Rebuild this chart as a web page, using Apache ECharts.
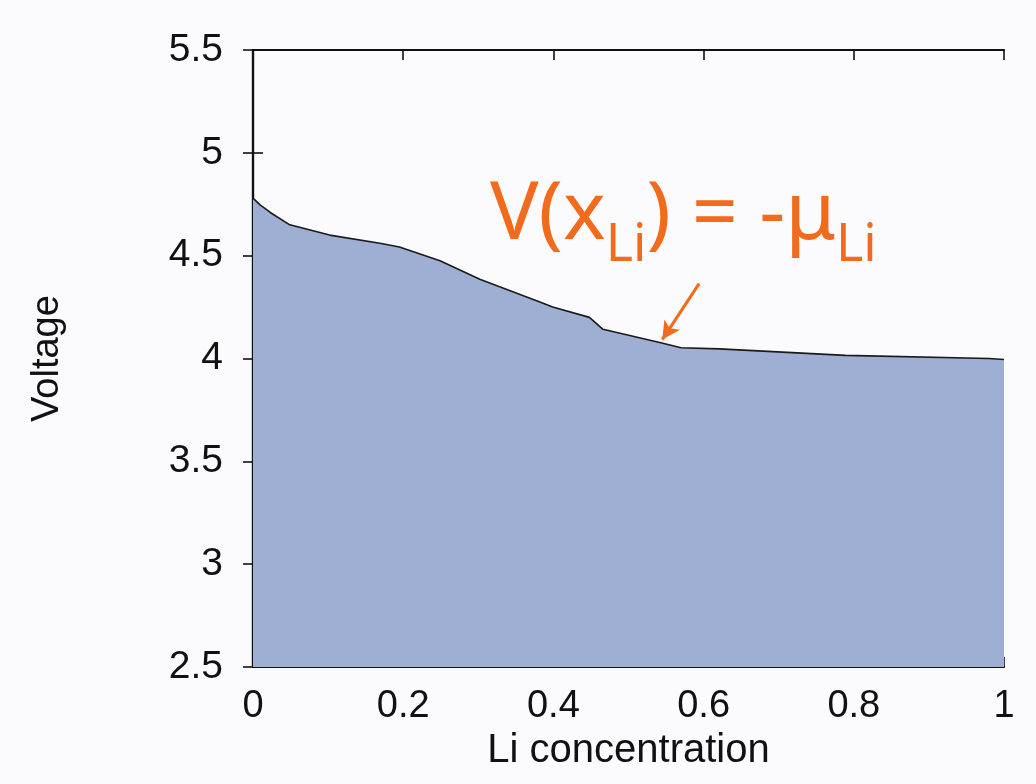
<!DOCTYPE html>
<html><head><meta charset="utf-8">
<script src="https://cdn.jsdelivr.net/npm/echarts@6/dist/echarts.min.js"></script>
<style>html,body{margin:0;padding:0;background:#fbfbfd}#c{width:1036px;height:784px}</style>
</head><body><div id="c"></div>
<script>
const liConc = [0, 0.009, 0.023, 0.049, 0.102, 0.169, 0.195, 0.249, 0.302, 0.382, 0.399, 0.448, 0.466, 0.543, 0.570, 0.621, 0.789, 0.98, 1];
const voltage = [4.78, 4.748, 4.71, 4.65, 4.60, 4.56, 4.542, 4.475, 4.385, 4.275, 4.25, 4.20, 4.142, 4.077, 4.052, 4.047, 4.015, 4.0, 3.995];
const xTicks = [0, 0.2, 0.4, 0.6, 0.8, 1];
const yTicks = [2.5, 3, 3.5, 4, 4.5, 5, 5.5];
const arrowFrom = [0.594, 4.364];
const arrowTo = [0.545, 4.092];

const chart = echarts.init(document.getElementById('c'));
const tf = 'Liberation Sans, Arial, sans-serif';
const baseAxis = {
  axisLine: {show: true, lineStyle: {color: '#111', width: 2.2}},
  axisTick: {show: true, inside: true, length: 10, lineStyle: {color: '#111', width: 1.6}},
  splitLine: {show: false}
};
chart.setOption({
  backgroundColor: '#fbfbfd',
  animation: false,
  grid: {left: 253, right: 32, top: 50, bottom: 117},
  xAxis: [
    Object.assign({}, baseAxis, {
      type: 'value', min: 0, max: 1, interval: 0.2, position: 'bottom',
      name: 'Li concentration', nameLocation: 'middle', nameGap: 62,
      nameTextStyle: {fontFamily: tf, fontSize: 40, color: '#111'},
      axisLabel: {fontFamily: tf, fontSize: 38, color: '#111', margin: 21,
        formatter: v => xTicks.indexOf(+v.toFixed(1)) >= 0 ? String(+v.toFixed(1)) : ''}
    }),
    Object.assign({}, baseAxis, {
      type: 'value', min: 0, max: 1, interval: 0.2, position: 'top',
      axisLabel: {show: false}
    })
  ],
  yAxis: [
    Object.assign({}, baseAxis, {
      type: 'value', min: 2.5, max: 5.5, interval: 0.5, position: 'left',
      name: 'Voltage', nameLocation: 'middle', nameGap: 186, nameRotate: 90,
      nameTextStyle: {fontFamily: tf, fontSize: 38, color: '#111'},
      axisLabel: {fontFamily: tf, fontSize: 39, color: '#111', margin: 30,
        formatter: v => yTicks.indexOf(+v.toFixed(1)) >= 0 ? String(+v.toFixed(1)) : ''}
    }),
    Object.assign({}, baseAxis, {
      type: 'value', min: 2.5, max: 5.5, interval: 0.5, position: 'right',
      axisLabel: {show: false}
    })
  ],
  series: [{
    type: 'line',
    data: liConc.map((x, i) => [x, voltage[i]]),
    showSymbol: false,
    smooth: false,
    lineStyle: {color: '#1a1a1a', width: 1.6},
    areaStyle: {color: '#9eafd3', opacity: 1, origin: 'start'},
    z: 1,
    markLine: {
      silent: true,
      symbol: ['none', 'arrow'],
      symbolSize: [14, 18],
      label: {show: false},
      lineStyle: {color: '#f26a1b', width: 3, type: 'solid'},
      data: [[{coord: arrowFrom}, {coord: arrowTo}]]
    }
  }],
  graphic: [{
    type: 'text',
    left: 490, top: 175,
    style: {
      text: '{m|V(x}{s|Li}{m|) = -μ}{s|Li}',
      rich: {
        m: {fontFamily: 'Noto Sans, sans-serif', fontSize: 81, fill: '#f26a1b', verticalAlign: 'bottom', lineHeight: 100},
        s: {fontFamily: 'Noto Sans, sans-serif', fontSize: 52, fill: '#f26a1b', padding: [0, 0, -16, 0], verticalAlign: 'bottom', lineHeight: 100}
      }
    }
  }]
});
</script></body></html>
